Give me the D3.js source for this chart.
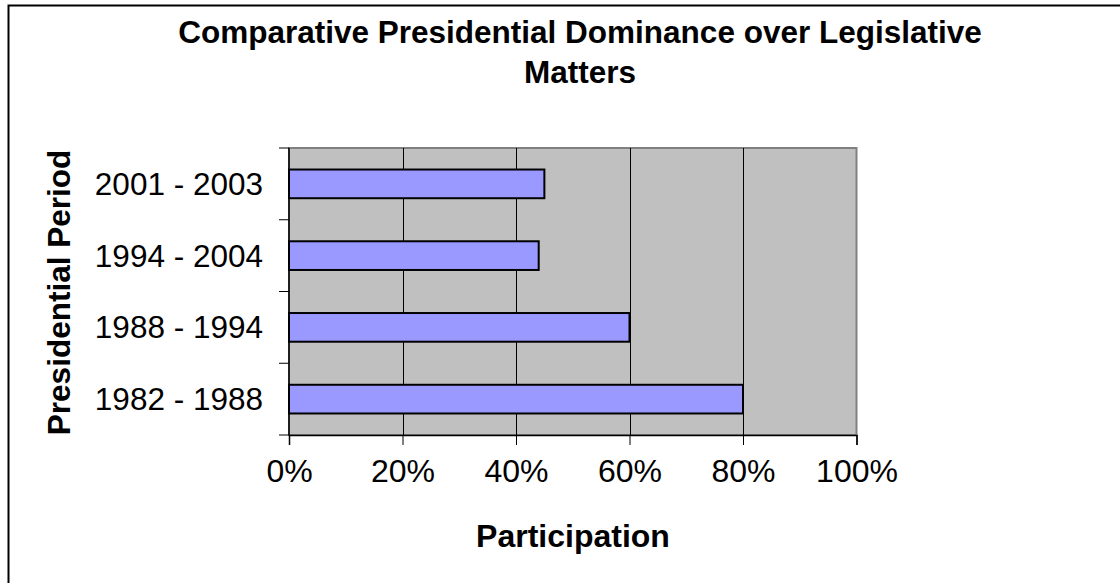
<!DOCTYPE html>
<html><head><meta charset="utf-8">
<script src="https://cdn.jsdelivr.net/npm/d3@7"></script>
<style>body{margin:0;background:#fff}svg{display:block}text{font-family:"Liberation Sans",Arial,sans-serif}</style>
</head><body>
<svg id="c" width="1120" height="583"></svg>
<script>
const categories = ["2001 - 2003", "1994 - 2004", "1988 - 1994", "1982 - 1988"];
const values = [0.45, 0.44, 0.60, 0.80];
const xTicks = [0, 0.2, 0.4, 0.6, 0.8, 1.0];
const titleLines = ["Comparative Presidential Dominance over Legislative", "Matters"];

const svg = d3.select("#c");
svg.append("rect").attr("x", 8.5).attr("y", 5.5).attr("width", 1130).attr("height", 600)
  .attr("fill", "#fff").attr("stroke", "#000").attr("stroke-width", 2);

const L = 289, R = 856.5, T = 148, B = 435;
const x = d3.scaleLinear().domain([0, 1]).range([L, R]);
const y = d3.scaleBand().domain(categories).range([T, B]).paddingInner(0.6).paddingOuter(0.3);
const yb = d3.scaleBand().domain(categories).range([T, B]);

svg.append("rect").attr("x", L).attr("y", T).attr("width", R - L).attr("height", B - T)
  .attr("fill", "#c0c0c0").attr("stroke", "#808080").attr("stroke-width", 2);

svg.append("g").selectAll("line").data(xTicks.slice(1, -1)).join("line")
  .attr("x1", d => Math.round(x(d)) + 0.5).attr("x2", d => Math.round(x(d)) + 0.5)
  .attr("y1", T).attr("y2", B).attr("stroke", "#000").attr("stroke-width", 1);

svg.append("g").selectAll("rect").data(values).join("rect")
  .attr("x", x(0)).attr("y", (d, i) => y(categories[i]))
  .attr("width", d => x(d) - x(0)).attr("height", y.bandwidth())
  .attr("fill", "#9999ff").attr("stroke", "#000").attr("stroke-width", 2);

// x axis
const xa = svg.append("g").attr("transform", `translate(0,${B})`)
  .call(d3.axisBottom(x).tickValues(xTicks).tickFormat(d3.format(".0%")).tickSize(10).tickPadding(0));
xa.select(".domain").attr("stroke", "#000").attr("stroke-width", 1.5);
xa.selectAll(".tick line").attr("stroke", "#000");
xa.selectAll("text").attr("font-size", 32).attr("fill", "#000").attr("dy", null).attr("y", 47);

// y axis
const ya = svg.append("g").attr("transform", `translate(${L},0)`);
ya.append("line").attr("x1", 0).attr("x2", 0).attr("y1", T).attr("y2", B).attr("stroke", "#000").attr("stroke-width", 1.5);
const yTickPos = d3.range(categories.length + 1).map(i => T + i * yb.step());
ya.selectAll("line.t").data(yTickPos).join("line").attr("class", "t")
  .attr("x1", -10).attr("x2", 0).attr("y1", d => d).attr("y2", d => d).attr("stroke", "#000");
ya.selectAll("text").data(categories).join("text")
  .attr("x", -26).attr("y", d => yb(d) + yb.bandwidth() / 2).attr("dy", "0.35em")
  .attr("text-anchor", "end").attr("font-size", 31.5).text(d => d);

// titles
svg.append("g").selectAll("text").data(titleLines).join("text")
  .attr("x", 580).attr("y", (d, i) => 43 + i * 40).attr("text-anchor", "middle")
  .attr("font-size", 31.5).attr("font-weight", "bold").text(d => d);
svg.append("text").attr("x", 573).attr("y", 547).attr("text-anchor", "middle")
  .attr("font-size", 32).attr("font-weight", "bold").text("Participation");
svg.append("text").attr("transform", "translate(70,292.5) rotate(-90)").attr("text-anchor", "middle")
  .attr("font-size", 31.5).attr("font-weight", "bold").text("Presidential Period");
</script>
</body></html>
